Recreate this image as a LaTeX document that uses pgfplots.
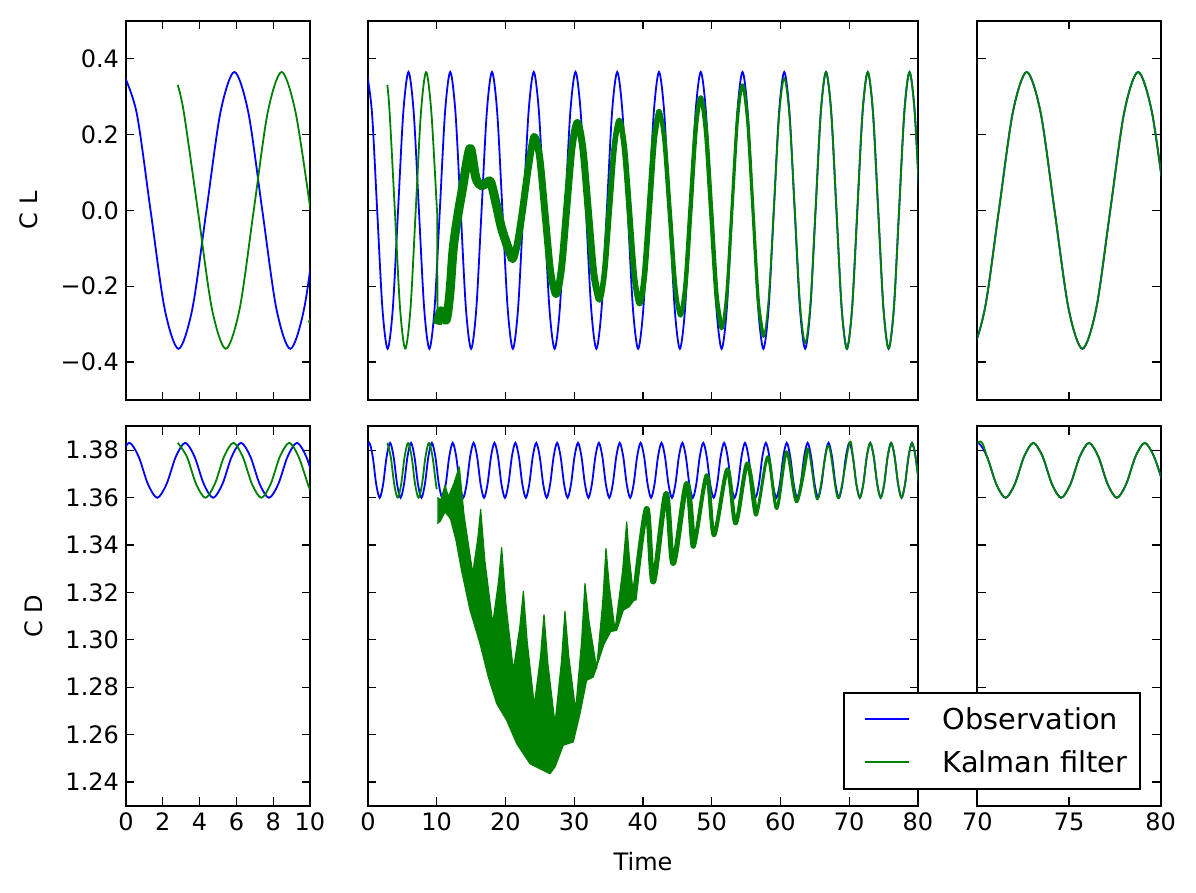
\documentclass[border=0pt]{standalone}
\usepackage{fontspec}
\setmainfont{DejaVu Sans}
\usepackage{pgfplots}
\usepackage{pgfplotstable}
\pgfplotsset{compat=1.18}

\definecolor{obsblue}{rgb}{0,0,1}
\definecolor{kfgreen}{rgb}{0,0.5,0}

% C_L observation
\pgfplotstableread{
t v
-0.183 0.365
0.576 0.258
1.335 0
2.094 -0.258
2.854 -0.365
3.613 -0.258
4.372 0
5.131 0.258
5.890 0.365
6.649 0.258
7.408 0
8.167 -0.258
8.927 -0.365
9.686 -0.258
10.445 0
11.204 0.258
11.963 0.365
12.722 0.258
13.481 0
14.240 -0.258
15.000 -0.365
15.759 -0.258
16.518 0
17.277 0.258
18.036 0.365
18.795 0.258
19.554 0
20.313 -0.258
21.073 -0.365
21.832 -0.258
22.591 0
23.350 0.258
24.109 0.365
24.868 0.258
25.627 0
26.386 -0.258
27.146 -0.365
27.905 -0.258
28.664 0
29.423 0.258
30.182 0.365
30.941 0.258
31.700 0
32.459 -0.258
33.219 -0.365
33.978 -0.258
34.737 0
35.496 0.258
36.255 0.365
37.014 0.258
37.773 0
38.532 -0.258
39.292 -0.365
40.051 -0.258
40.810 0
41.569 0.258
42.328 0.365
43.087 0.258
43.846 0
44.605 -0.258
45.365 -0.365
46.124 -0.258
46.883 0
47.642 0.258
48.401 0.365
49.160 0.258
49.919 0
50.678 -0.258
51.438 -0.365
52.197 -0.258
52.956 0
53.715 0.258
54.474 0.365
55.233 0.258
55.992 0
56.751 -0.258
57.511 -0.365
58.270 -0.258
59.029 0
59.788 0.258
60.547 0.365
61.306 0.258
62.065 0
62.824 -0.258
63.584 -0.365
64.343 -0.258
65.102 0
65.861 0.258
66.620 0.365
67.379 0.258
68.138 0
68.897 -0.258
69.657 -0.365
70.416 -0.258
71.175 0
71.934 0.258
72.693 0.365
73.452 0.258
74.211 0
74.970 -0.258
75.730 -0.365
76.489 -0.258
77.248 0
78.007 0.258
78.766 0.365
79.525 0.258
80.284 0
}\clobs

% C_L Kalman filter, before the filter kicks in
\pgfplotstableread{
t v
2.810 0.331
3.146 0.258
3.905 0.000
4.664 -0.258
5.424 -0.365
6.183 -0.258
6.942 0.000
7.701 0.258
8.460 0.365
9.219 0.258
10.000 0.010
}\clgA

% C_L Kalman filter, from t = 10
\pgfplotstableread{
t v
10.10 -0.300
10.60 -0.265
11.35 -0.290
11.90 -0.220
12.40 -0.100
13.10 -0.010
13.86 0.070
14.40 0.130
14.93 0.163
15.70 0.085
16.50 0.065
17.20 0.072
17.84 0.075
18.60 0.020
19.40 -0.045
20.30 -0.095
21.05 -0.130
21.70 -0.090
22.40 -0.010
23.30 0.110
24.15 0.195
24.95 0.1425
25.75 -0.0085
26.55 -0.1595
27.35 -0.222
28.125 -0.1555
28.90 0.005
29.675 0.1655
30.45 0.232
31.25 0.1634
32.05 -0.002
32.85 -0.1674
33.65 -0.236
34.375 -0.1667
35.10 0.0005
35.825 0.1677
36.55 0.237
37.29 0.1663
38.03 -0.0045
38.76 -0.1753
39.50 -0.246
40.21 -0.1716
40.93 0.008
41.64 0.1876
42.35 0.262
43.125 0.183
43.90 -0.0075
44.675 -0.198
45.45 -0.277
46.19 -0.1928
46.93 0.0105
47.66 0.2138
48.40 0.298
49.16 0.2086
49.93 -0.007
50.69 -0.2226
51.45 -0.312
52.20 -0.2178
52.96 0.0095
53.72 0.2368
54.47 0.331
55.23 0.2336
56.00 -0.0015
56.76 -0.2366
57.52 -0.334
58.28 -0.234
59.04 0.0075
59.79 0.249
60.55 0.349
61.31 0.2466
62.08 -0.0005
62.84 -0.2476
63.60 -0.350
64.355 -0.2453
65.11 0.0075
65.865 0.2603
66.620 0.365
67.379 0.258
68.138 0
68.897 -0.258
69.657 -0.365
70.416 -0.258
71.175 0
71.934 0.258
72.693 0.365
73.452 0.258
74.211 0
74.970 -0.258
75.730 -0.365
76.489 -0.258
77.248 0
78.007 0.258
78.766 0.365
79.525 0.258
80.284 0
}\clgB

% C_D observation
\pgfplotstableread{
t v
-0.326 1.3773
0.180 1.3831
0.686 1.3773
1.192 1.3657
1.698 1.3599
2.204 1.3657
2.710 1.3773
3.217 1.3831
3.723 1.3773
4.229 1.3657
4.735 1.3599
5.241 1.3657
5.747 1.3773
6.253 1.3831
6.759 1.3773
7.265 1.3657
7.771 1.3599
8.277 1.3657
8.783 1.3773
9.290 1.3831
9.796 1.3773
10.302 1.3657
10.808 1.3599
11.314 1.3657
11.820 1.3773
12.326 1.3831
12.832 1.3773
13.338 1.3657
13.844 1.3599
14.350 1.3657
14.856 1.3773
15.363 1.3831
15.869 1.3773
16.375 1.3657
16.881 1.3599
17.387 1.3657
17.893 1.3773
18.399 1.3831
18.905 1.3773
19.411 1.3657
19.917 1.3599
20.423 1.3657
20.929 1.3773
21.436 1.3831
21.942 1.3773
22.448 1.3657
22.954 1.3599
23.460 1.3657
23.966 1.3773
24.472 1.3831
24.978 1.3773
25.484 1.3657
25.990 1.3599
26.496 1.3657
27.002 1.3773
27.509 1.3831
28.015 1.3773
28.521 1.3657
29.027 1.3599
29.533 1.3657
30.039 1.3773
30.545 1.3831
31.051 1.3773
31.557 1.3657
32.063 1.3599
32.569 1.3657
33.075 1.3773
33.582 1.3831
34.088 1.3773
34.594 1.3657
35.100 1.3599
35.606 1.3657
36.112 1.3773
36.618 1.3831
37.124 1.3773
37.630 1.3657
38.136 1.3599
38.642 1.3657
39.148 1.3773
39.655 1.3831
40.161 1.3773
40.667 1.3657
41.173 1.3599
41.679 1.3657
42.185 1.3773
42.691 1.3831
43.197 1.3773
43.703 1.3657
44.209 1.3599
44.715 1.3657
45.221 1.3773
45.728 1.3831
46.234 1.3773
46.740 1.3657
47.246 1.3599
47.752 1.3657
48.258 1.3773
48.764 1.3831
49.270 1.3773
49.776 1.3657
50.282 1.3599
50.788 1.3657
51.294 1.3773
51.801 1.3831
52.307 1.3773
52.813 1.3657
53.319 1.3599
53.825 1.3657
54.331 1.3773
54.837 1.3831
55.343 1.3773
55.849 1.3657
56.355 1.3599
56.861 1.3657
57.367 1.3773
57.874 1.3831
58.380 1.3773
58.886 1.3657
59.392 1.3599
59.898 1.3657
60.404 1.3773
60.910 1.3831
61.416 1.3773
61.922 1.3657
62.428 1.3599
62.934 1.3657
63.440 1.3773
63.947 1.3831
64.453 1.3773
64.959 1.3657
65.465 1.3599
65.971 1.3657
66.477 1.3773
66.983 1.3831
67.489 1.3773
67.995 1.3657
68.501 1.3599
69.007 1.3657
69.513 1.3773
70.020 1.3831
70.526 1.3773
71.032 1.3657
71.538 1.3599
72.044 1.3657
72.550 1.3773
73.056 1.3831
73.562 1.3773
74.068 1.3657
74.574 1.3599
75.080 1.3657
75.586 1.3773
76.093 1.3831
76.599 1.3773
77.105 1.3657
77.611 1.3599
78.117 1.3657
78.623 1.3773
79.129 1.3831
79.635 1.3773
80.141 1.3657
}\cdobs

% C_D Kalman filter, before t = 10
\pgfplotstableread{
t v
2.810 1.3831
3.306 1.3773
3.812 1.3657
4.318 1.3599
4.824 1.3657
5.330 1.3773
5.836 1.3831
6.342 1.3773
6.848 1.3657
7.354 1.3599
7.860 1.3657
8.366 1.3773
8.872 1.3831
9.378 1.3773
9.884 1.3657
10.000 1.3635
}\cdgA

% C_D Kalman filter, noisy band 10..39 (upper edge, then lower edge back)
\pgfplotstableread{
t v
10.08 1.3600
10.60 1.3590
11.20 1.3652
11.70 1.3603
12.50 1.3660
13.28 1.3730
13.96 1.3528
15.23 1.3280
15.98 1.3429
16.39 1.3550
17.00 1.3333
18.14 1.3068
18.985 1.3245
19.44 1.3389
20.035 1.3156
21.14 1.2871
22.09 1.3055
22.60 1.3205
23.16 1.2989
24.19 1.2724
25.11 1.2934
25.60 1.3106
26.16 1.2899
27.20 1.2646
28.14 1.2907
28.65 1.3120
29.19 1.2932
30.20 1.2702
31.08 1.2996
31.56 1.3237
32.155 1.3076
33.26 1.2879
34.14 1.3157
34.62 1.3385
35.08 1.3230
35.93 1.3040
37.035 1.3291
37.63 1.3497
38.00 1.3349
38.69 1.3167
38.00 1.3140
37.14 1.3125
36.17 1.3040
35.30 1.3035
34.30 1.2980
32.77 1.2843
31.80 1.2829
30.84 1.2689
29.86 1.2569
28.40 1.2555
27.20 1.2463
26.47 1.2435
25.00 1.2456
23.56 1.2477
21.63 1.2562
20.17 1.2660
18.72 1.2731
17.50 1.2843
16.29 1.2984
14.84 1.3125
13.60 1.3293
12.80 1.3420
12.00 1.3510
11.20 1.3540
10.50 1.3500
10.08 1.3490
}\cdpoly

% C_D Kalman filter, from t = 38.7
\pgfplotstableread{
t v
38.69 1.3167
40.53 1.3554
41.50 1.3244
43.35 1.3617
44.40 1.3322
46.35 1.3659
47.32 1.3392
49.27 1.3694
50.33 1.3441
52.27 1.3719
53.48 1.3491
55.17 1.3744
56.44 1.3526
58.14 1.3772
59.45 1.3554
60.90 1.3793
62.35 1.3582
63.95 1.3807
65.36 1.3592
66.96 1.3820
68.40 1.3597
70.020 1.3831
70.526 1.3773
71.032 1.3657
71.538 1.3599
72.044 1.3657
72.550 1.3773
73.056 1.3831
73.562 1.3773
74.068 1.3657
74.574 1.3599
75.080 1.3657
75.586 1.3773
76.093 1.3831
76.599 1.3773
77.105 1.3657
77.611 1.3599
78.117 1.3657
78.623 1.3773
79.129 1.3831
79.635 1.3773
80.141 1.3657
}\cdgB

\pgfplotsset{
  panel/.style={
    scale only axis, anchor=south west, height=189.6pt,
    axis line style={line width=1pt},
    tick style={black, line width=0.6pt},
    major tick length=4.2pt,
    tick align=inside, xtick pos=both, ytick pos=both,
    tick label style={font=\fontsize{12}{14}\selectfont},
    label style={font=\fontsize{12}{14}\selectfont},
  },
  colL/.style={width=92pt, xmin=0, xmax=10, xtick={0,2,4,6,8,10}},
  colM/.style={width=275pt, xmin=0, xmax=80, xtick={0,10,20,30,40,50,60,70,80}, yticklabels={}},
  colR/.style={width=91.7pt, xmin=70, xmax=80, xtick={70,75,80}, yticklabels={}},
  rowT/.style={ymin=-0.5, ymax=0.5, ytick={-0.4,-0.2,0,0.2,0.4}, xticklabels={}},
  rowB/.style={ymin=1.23, ymax=1.39, ytick={1.24,1.26,1.28,1.30,1.32,1.34,1.36,1.38}},
  obs/.style={obsblue, line width=0.9pt, smooth, forget plot},
  kf/.style={kfgreen, line width=0.9pt, smooth, line join=round, forget plot},
}

\newcommand{\clplots}{%
  \addplot[obs] table {\clobs};
  \addplot[kf] table {\clgA};
  \addplot[kf, sharp plot] coordinates {(10.0,0.010) (10.07,-0.010) (10.10,-0.300)};
  \addplot[kf, line width=4.5pt, restrict x to domain=10.1:21.05] table {\clgB};
  \addplot[kf, line width=3.5pt, restrict x to domain=10.1:33.65] table {\clgB};
  \addplot[kf, line width=2.8pt, restrict x to domain=10.1:42.35] table {\clgB};
  \addplot[kf, line width=2.2pt, restrict x to domain=10.1:51.45] table {\clgB};
  \addplot[kf, line width=1.6pt, restrict x to domain=10.1:57.52] table {\clgB};
  \addplot[kf] table {\clgB};
}
\newcommand{\cdplots}{%
  \addplot[obs] table {\cdobs};
  \addplot[kf] table {\cdgA};
  \addplot[kfgreen, fill=kfgreen, line width=0.6pt, line join=round, forget plot] table {\cdpoly};
  \addplot[kf, line width=2.6pt, restrict x to domain=38.69:47.32] table {\cdgB};
  \addplot[kf, line width=2.0pt, restrict x to domain=38.69:56.44] table {\cdgB};
  \addplot[kf, line width=1.5pt, restrict x to domain=38.69:63.95] table {\cdgB};
  \addplot[kf] table {\cdgB};
}

\begin{document}
\begin{tikzpicture}
\path[use as bounding box] (0pt,0pt) rectangle (598pt,446.5pt);

% top row: C L
\begin{axis}[panel, colL, rowT, at={(63pt,246.5pt)},
  yticklabels={−0.4,−0.2,0.0,0.2,0.4},
  ylabel={C L}, ylabel style={at={(axis description cs:-0.53,0.5)}, anchor=center}]
  \clplots
\end{axis}
\begin{axis}[panel, colM, rowT, at={(184pt,246.5pt)}]
  \clplots
\end{axis}
\begin{axis}[panel, colR, rowT, at={(488.65pt,246.5pt)}]
  \clplots
\end{axis}

% bottom row: C D
\begin{axis}[panel, colL, rowB, at={(63pt,43.65pt)},
  xticklabels={0,2,4,6,8,10},
  yticklabels={1.24,1.26,1.28,1.30,1.32,1.34,1.36,1.38},
  ylabel={C D}, ylabel style={at={(axis description cs:-0.50,0.5)}, anchor=center}]
  \cdplots
\end{axis}
\begin{axis}[panel, colR, rowB, at={(488.65pt,43.65pt)},
  xticklabels={70,75,80}]
  \cdplots
\end{axis}
\begin{axis}[panel, colM, rowB, at={(184pt,43.65pt)},
  xticklabels={0,10,20,30,40,50,60,70,80},
  xlabel={Time}, xlabel style={at={(axis description cs:0.5,-0.148)}, anchor=center},
  legend cell align=left,
  legend image code/.code={\path (0pt,0pt); \draw[#1] (4.3pt,0pt) -- (26.3pt,0pt);},
  legend style={at={(axis description cs:0.863,0.0422)}, anchor=south west,
    draw=black, line width=1pt, fill=white,
    font=\fontsize{14.4}{17}\selectfont,
    inner xsep=5.7pt, inner ysep=6.4pt, row sep=8.2pt,
    nodes={inner xsep=1pt, inner ysep=1pt, text height=11pt, text depth=0.5pt},
    /tikz/every odd column/.append style={column sep=15.7pt}}]
  \cdplots
  \addlegendimage{obsblue, line width=0.9pt}
  \addlegendentry{Observation}
  \addlegendimage{kfgreen, line width=0.9pt}
  \addlegendentry{Kalman filter}
\end{axis}
\end{tikzpicture}
\end{document}
